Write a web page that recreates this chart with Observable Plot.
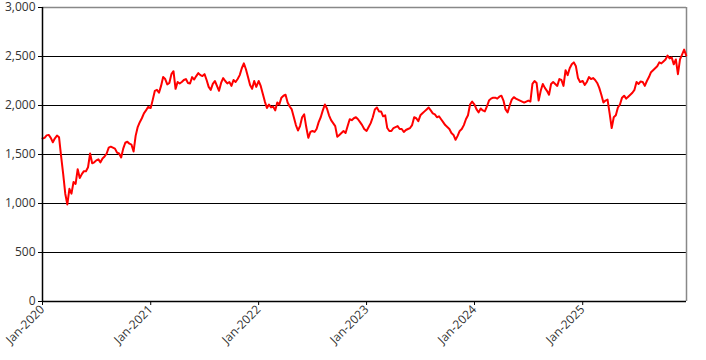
<!DOCTYPE html>
<html><head><meta charset="utf-8">
<script src="https://cdn.jsdelivr.net/npm/d3@7"></script>
<script src="https://cdn.jsdelivr.net/npm/@observablehq/plot@0.6"></script>
<style>
body{margin:0;background:#fff;}
#chart svg{display:block;}
</style>
</head><body><div id="chart"></div>
<script>
// Weekly closing values, one array per year (week 0 = 1 Jan)
const years = [2020, 2021, 2022, 2023, 2024, 2025];
const v2020 = [1663,1670,1695,1700,1670,1625,1665,1693,1675,1480,1300,1100,990,1150,1100,1220,1200,1350,1260,1300,1330,1330,1370,1510,1410,1420,1440,1450,1420,1460,1480,1510,1570,1580,1570,1560,1520,1510,1470,1560,1620,1630,1610,1600,1530,1690,1780,1830,1870,1920,1950,1985];
const v2021 = [1975,2060,2150,2160,2130,2200,2290,2270,2215,2230,2320,2350,2170,2240,2225,2240,2260,2270,2230,2225,2290,2265,2300,2330,2310,2300,2320,2260,2190,2160,2220,2250,2200,2150,2230,2280,2250,2225,2240,2200,2260,2240,2270,2310,2380,2430,2370,2290,2210,2170,2250,2190];
const v2022 = [2250,2200,2120,2040,1975,2010,1980,1990,1950,2030,2010,2080,2100,2110,2030,1990,1960,1880,1800,1745,1790,1880,1910,1780,1670,1730,1740,1730,1760,1830,1880,1950,2010,1970,1900,1850,1820,1790,1680,1700,1720,1740,1720,1790,1860,1850,1870,1880,1860,1830,1800,1760];
const v2023 = [1740,1780,1820,1880,1960,1980,1940,1940,1890,1900,1770,1740,1740,1770,1780,1790,1760,1760,1730,1750,1760,1770,1800,1880,1870,1840,1900,1920,1940,1960,1980,1950,1920,1910,1880,1890,1860,1830,1800,1780,1760,1720,1700,1650,1690,1740,1760,1800,1860,1900,2010,2040];
const v2024 = [2010,1960,1930,1970,1950,1940,1990,2050,2070,2080,2080,2070,2090,2100,2050,1960,1930,2000,2060,2085,2070,2060,2050,2040,2030,2040,2050,2040,2220,2250,2230,2050,2150,2220,2180,2150,2110,2220,2240,2220,2200,2270,2260,2200,2360,2310,2380,2420,2440,2400,2280,2240];
const v2025 = [2250,2210,2240,2290,2270,2280,2260,2230,2180,2110,2030,2050,2060,1920,1770,1880,1900,1980,2010,2080,2100,2070,2090,2110,2130,2160,2240,2220,2245,2240,2200,2250,2290,2340,2360,2380,2400,2440,2430,2450,2470,2510,2480,2490,2420,2470,2320,2470,2520,2570,2510];

const yTicks = [0, 500, 1000, 1500, 2000, 2500, 3000];
const yGrid = [500, 1000, 1500, 2000, 2500];
const xTickLabels = ["Jan-2020", "Jan-2021", "Jan-2022", "Jan-2023", "Jan-2024", "Jan-2025"];

const series = [v2020, v2021, v2022, v2023, v2024, v2025];
const data = [];
series.forEach((arr, k) => arr.forEach((v, w) => data.push({date: new Date(Date.UTC(years[k], 0, 1 + 7 * w)), value: v})));

const xStart = new Date(Date.UTC(2020, 0, 1));
const xEnd = new Date(Date.UTC(2025, 11, 18));
const xTicks = years.map(y => new Date(Date.UTC(y, 0, 1)));

const chart = Plot.plot({
  width: 706,
  height: 360,
  marginLeft: 42,
  marginRight: 20,
  marginTop: 7,
  marginBottom: 59,
  style: {fontFamily: "'Open Sans', sans-serif", fontSize: "12px", color: "#333", background: "#fff"},
  x: {type: "utc", domain: [xStart, xEnd]},
  y: {domain: [0, 3000]},
  marks: [
    Plot.ruleY(yGrid, {stroke: "#000", strokeWidth: 1}),
    Plot.ruleY([3000], {stroke: "#888", strokeWidth: 1.5}),
    Plot.ruleX([xEnd], {stroke: "#888", strokeWidth: 1.5}),
    Plot.axisY({ticks: yTicks, tickFormat: d3.format(","), tickSize: 4, tickPadding: 3, stroke: "#000", label: null}),
    Plot.axisX({ticks: xTicks, tickFormat: (d, i) => xTickLabels[i], tickRotate: -45, tickSize: 4, tickPadding: 2, stroke: "#000", label: null}),
    Plot.line(data, {x: "date", y: "value", stroke: "#f00", strokeWidth: 2}),
    Plot.ruleY([0], {stroke: "#000", strokeWidth: 1.5}),
    Plot.ruleX([xStart], {stroke: "#000", strokeWidth: 1.5})
  ]
});
document.getElementById("chart").appendChild(chart);
</script>
</body></html>
